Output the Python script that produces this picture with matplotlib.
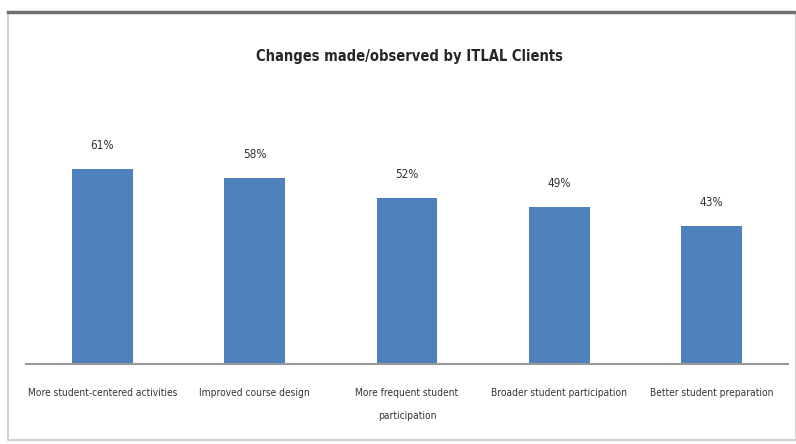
import matplotlib
matplotlib.use("Agg")
import matplotlib.pyplot as plt
from matplotlib.patches import Rectangle
from matplotlib.lines import Line2D

categories = ["More student-centered activities", "Improved course design",
              "More frequent student\nparticipation", "Broader student participation",
              "Better student preparation"]
values = [61, 58, 52, 49, 43]
labels = ["61%", "58%", "52%", "49%", "43%"]

plt.rcParams['font.family'] = ['DejaVu Sans']
plt.rcParams['font.stretch'] = 'condensed'

W, H = 796, 444
fig = plt.figure(figsize=(W/100, H/100), dpi=100)
fig.patch.set_facecolor('white')

fig.patches.append(Rectangle((8/W, 4/H), (W-8)/W, (H-16)/H, transform=fig.transFigure,
                             fill=False, edgecolor='#c8c8c8', linewidth=1.2))
fig.lines.append(Line2D([8/W, 1], [1-12/H, 1-12/H], transform=fig.transFigure,
                        color='#707070', linewidth=2.5))

ax = fig.add_axes([26/W, 1-364/H, (788-26)/W, (364-140)/H])
x = range(len(categories))
ax.bar(x, values, width=0.4, color='#4F81BD', zorder=2)
ax.set_xlim(-0.5, len(categories)-0.5)
ax.set_ylim(0, 70)
for xi, v, l in zip(x, values, labels):
    ax.text(xi, v + 5.3, l, ha='center', va='bottom', fontsize=8.5, color='#333333',
            fontstretch='condensed')
ax.set_xticks(list(x))
ax.set_xticklabels(categories, fontsize=7.3, color='#333333', linespacing=2.7,
                   fontstretch='condensed')
ax.tick_params(axis='x', length=0, pad=17)
ax.set_yticks([])
for s in ['top', 'right', 'left']:
    ax.spines[s].set_visible(False)
ax.spines['bottom'].set_color('#999999')
ax.spines['bottom'].set_linewidth(1.5)
ax.set_facecolor('none')

fig.text(409/W, 1-57/H, "Changes made/observed by ITLAL Clients", ha='center', va='center',
         fontsize=10.5, fontweight='bold', color='#262626', fontstretch='condensed')

fig.savefig("out.png", dpi=100)
